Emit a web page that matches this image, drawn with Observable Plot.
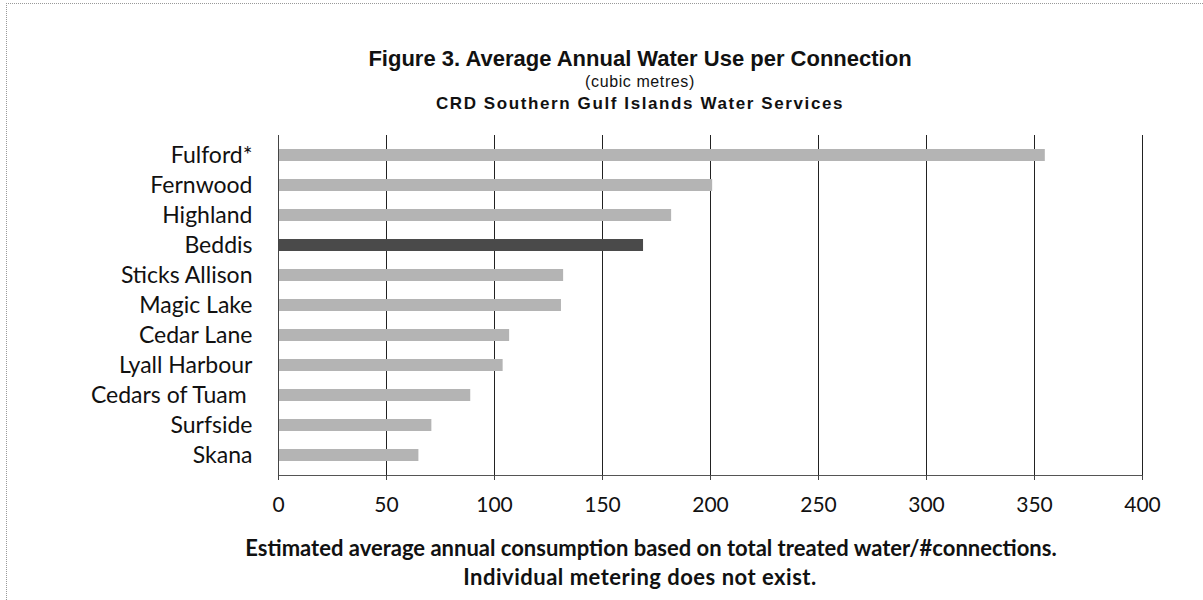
<!DOCTYPE html>
<html>
<head>
<meta charset="utf-8">
<script src="https://cdn.jsdelivr.net/npm/d3@7"></script>
<script src="https://cdn.jsdelivr.net/npm/@observablehq/plot@0.6"></script>
<style>
  html, body { margin: 0; padding: 0; background: white; }
  #page { position: relative; width: 1203px; height: 600px; overflow: hidden; background: white; }
  #border { position: absolute; left: 6px; top: 3px; right: 0; bottom: 0; border-top: 1px dotted #999; border-left: 1px dotted #999; z-index: 5; pointer-events: none; }
  .t { position: absolute; left: 0; width: 1280px; text-align: center; color: #111; line-height: 1.15; }
  #title { top: 46px; font: bold 22px "Liberation Sans", Arial, sans-serif; }
  #sub1 { top: 73px; font: 16px "Liberation Sans", Arial, sans-serif; letter-spacing: 0.6px; }
  #sub2 { top: 94px; font: bold 17px "Liberation Sans", Arial, sans-serif; letter-spacing: 1.6px; }
  #chart { position: absolute; left: 0; top: 127px; }
  .cap { position: absolute; left: 0; text-align: center; font: bold 22px Lato, sans-serif; color: #111; line-height: 1.2; }
  #cap1 { top: 535px; width: 1302px; }
  #cap2 { top: 564px; width: 1280px; letter-spacing: 0.5px; }
</style>
</head>
<body>
<div id="page">
  <div id="border"></div>
  <div class="t" id="title">Figure 3. Average Annual Water Use per Connection</div>
  <div class="t" id="sub1">(cubic metres)</div>
  <div class="t" id="sub2">CRD Southern Gulf Islands Water Services</div>
  <div id="chart"></div>
  <div class="cap" id="cap1">Estimated average annual consumption based on total treated water/#connections.</div>
  <div class="cap" id="cap2">Individual metering does not exist.</div>
</div>
<script>
const categories = ["Fulford*", "Fernwood", "Highland", "Beddis", "Sticks Allison", "Magic Lake", "Cedar Lane", "Lyall Harbour", "Cedars of Tuam ", "Surfside", "Skana"];
const values = [355, 201, 182, 169, 132, 131, 107, 104, 89, 71, 65];
const highlighted = "Beddis";
const xTicks = [0, 50, 100, 150, 200, 250, 300, 350, 400];

const data = categories.map((name, i) => ({name, value: values[i]}));

const chart = Plot.plot({
  width: 1203,
  height: 394,
  marginLeft: 278,
  marginRight: 61,
  marginTop: 8,
  marginBottom: 46,
  style: {fontFamily: "Lato, sans-serif", background: "transparent", color: "#111"},
  x: {domain: [0, 400], ticks: xTicks, label: null},
  y: {domain: categories, paddingInner: 0.6, paddingOuter: 0.3, label: null},
  marks: [
    Plot.gridX(xTicks.filter(d => d > 0), {stroke: "#222", strokeOpacity: 1, strokeWidth: 1}),
    Plot.barX(data, {x: "value", y: "name", fill: d => d.name === highlighted ? "#4a4a4a" : "#b4b4b4"}),
    Plot.ruleX([0], {stroke: "#444"}),
    Plot.frame({anchor: "bottom", stroke: "#555"}),
    Plot.axisX({ticks: xTicks, tickSize: 5, tickPadding: 17, fontSize: 21, label: null, stroke: "#444"}),
    Plot.axisY({tickSize: 0, tickPadding: 26, fontSize: 23, label: null})
  ]
});
document.getElementById("chart").appendChild(chart);
</script>
</body>
</html>
